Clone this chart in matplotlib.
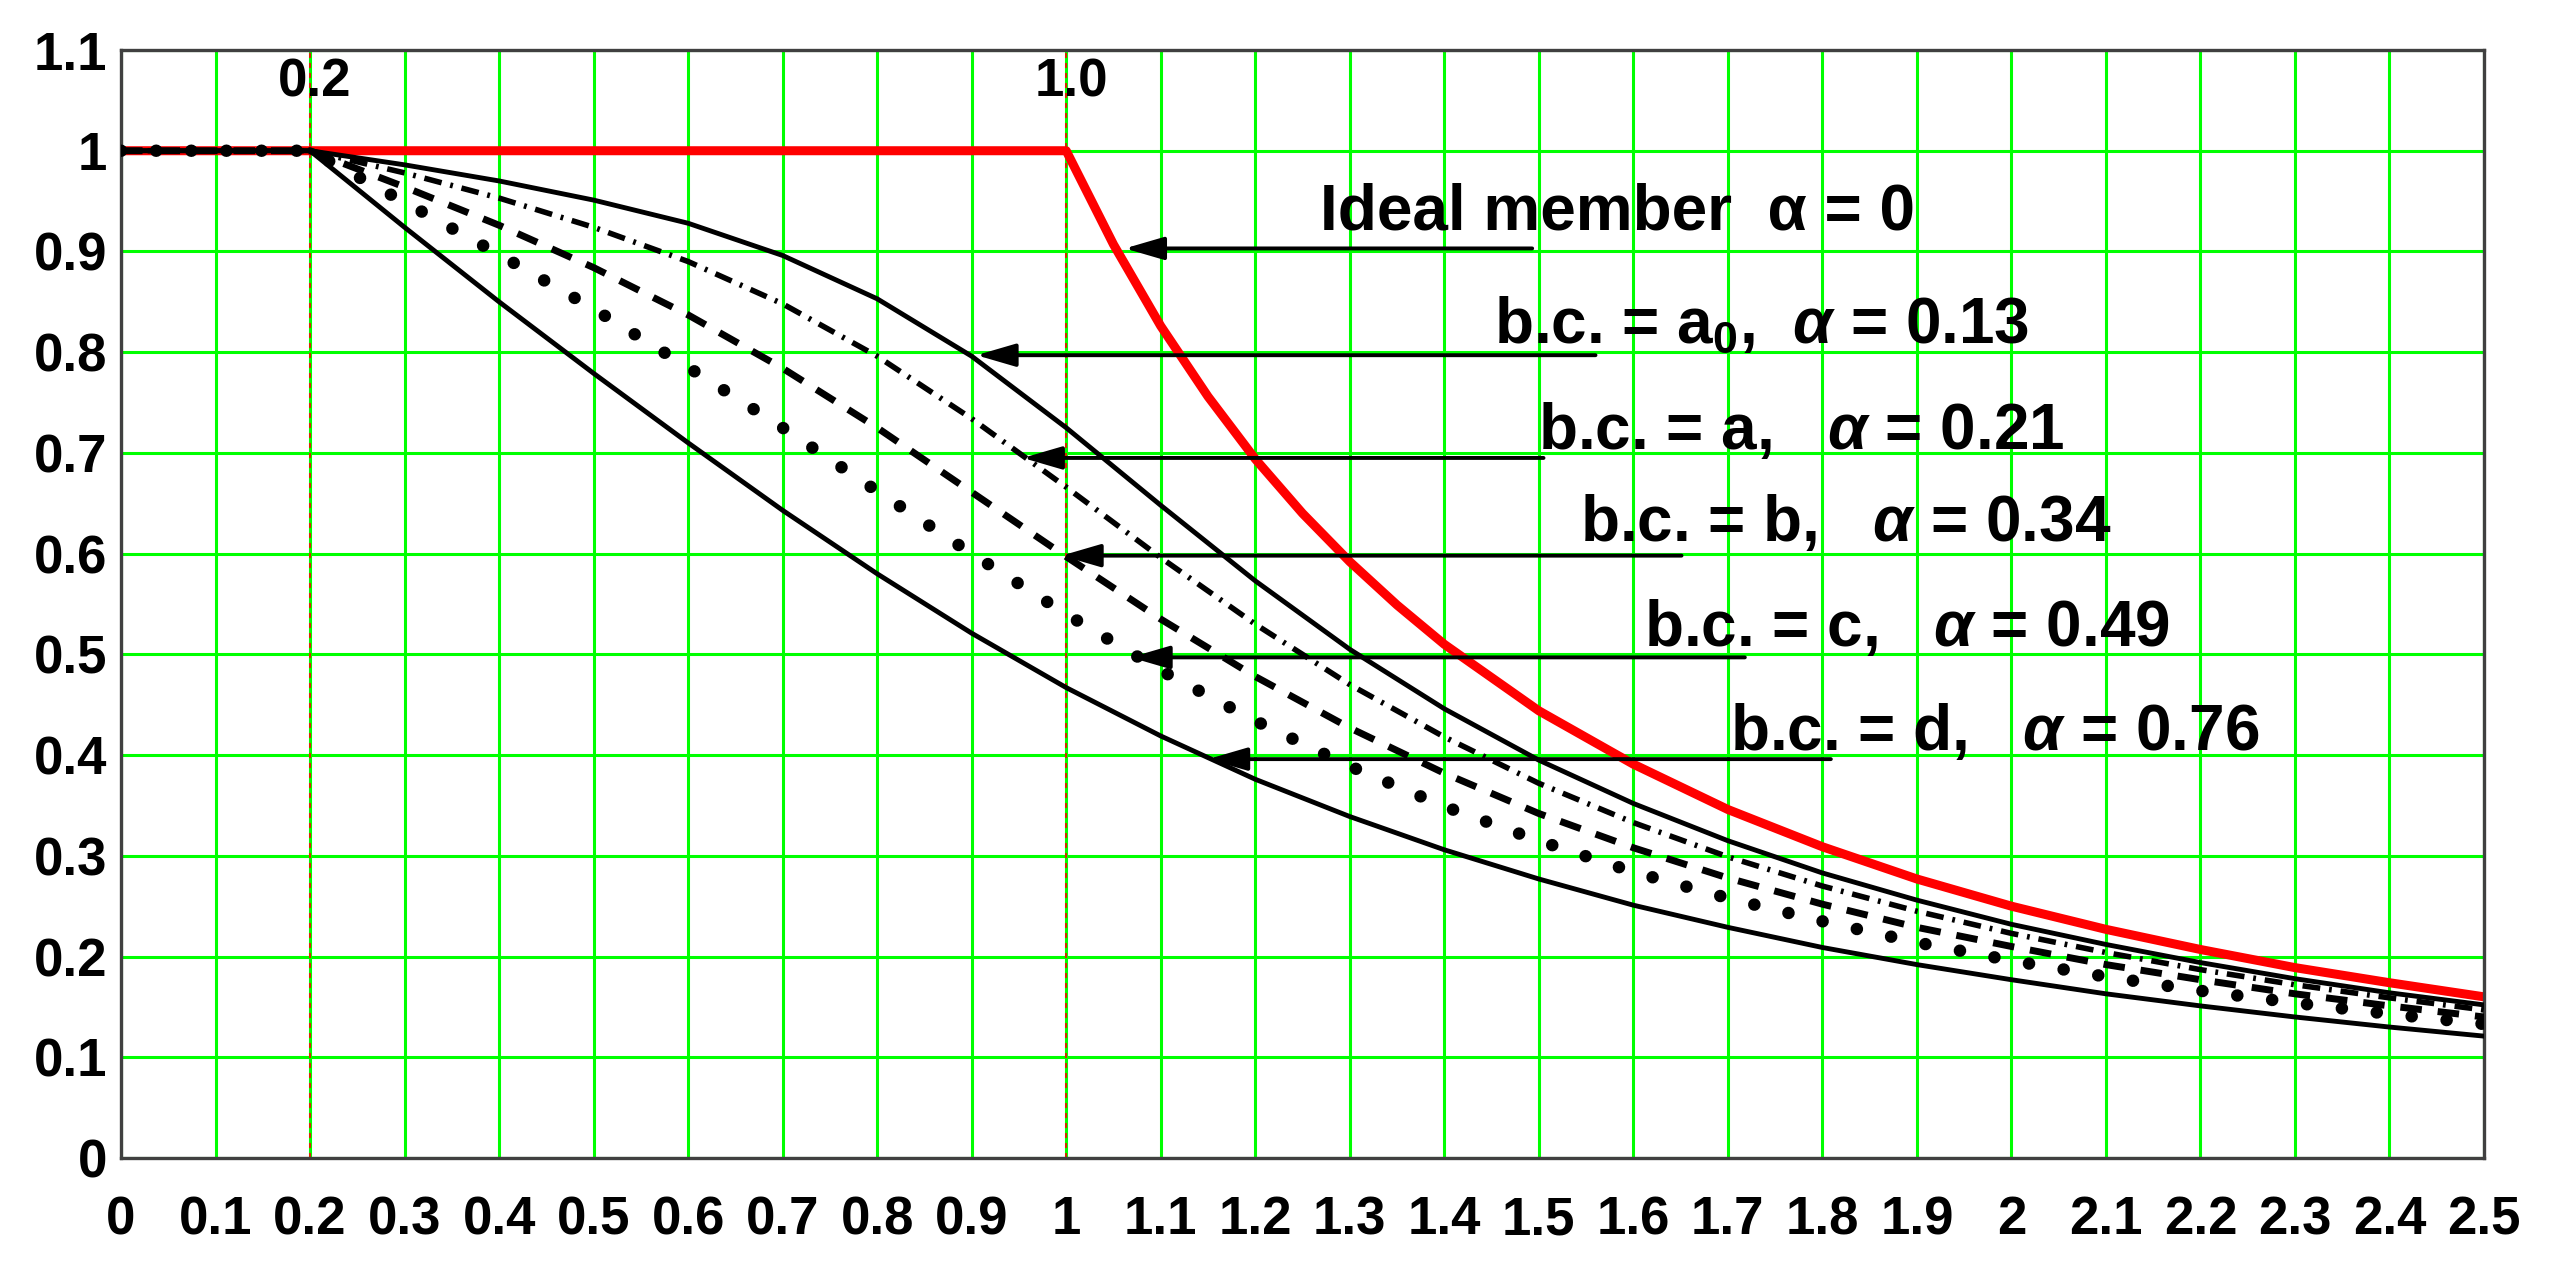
#buckling curves - reduction factor chi against relative slenderness

import numpy as np
import matplotlib.pyplot as plt

plt.rcParams['font.family'] = ['Liberation Sans', 'DejaVu Sans']
plt.rcParams['font.weight'] = 'bold'
plt.rcParams['mathtext.fontset'] = 'custom'
plt.rcParams['mathtext.rm'] = 'Liberation Sans:bold'
plt.rcParams['mathtext.bf'] = 'Liberation Sans:bold'
plt.rcParams['mathtext.it'] = 'Liberation Sans:italic:bold'

#values
lam = [0.0, 0.1, 0.2, 0.3, 0.4, 0.5, 0.6, 0.7, 0.8, 0.9, 1.0, 1.1, 1.2,
       1.3, 1.4, 1.5, 1.6, 1.7, 1.8, 1.9, 2.0, 2.1, 2.2, 2.3, 2.4, 2.5]
chi_a0 = [1, 1, 1, 0.986, 0.970, 0.951, 0.928, 0.896, 0.853, 0.796, 0.725,
          0.648, 0.573, 0.505, 0.446, 0.395, 0.352, 0.315, 0.283, 0.256,
          0.232, 0.212, 0.194, 0.178, 0.164, 0.152]
chi_a = [1, 1, 1, 0.978, 0.953, 0.924, 0.890, 0.848, 0.796, 0.734, 0.666,
         0.596, 0.530, 0.470, 0.418, 0.372, 0.333, 0.299, 0.270, 0.245,
         0.223, 0.204, 0.187, 0.172, 0.159, 0.147]
chi_b = [1, 1, 1, 0.964, 0.926, 0.884, 0.837, 0.784, 0.725, 0.661, 0.597,
         0.535, 0.478, 0.427, 0.382, 0.342, 0.308, 0.278, 0.252, 0.229,
         0.210, 0.192, 0.177, 0.163, 0.151, 0.140]
chi_c = [1, 1, 1, 0.949, 0.897, 0.843, 0.785, 0.725, 0.662, 0.600, 0.540,
         0.484, 0.434, 0.389, 0.349, 0.315, 0.284, 0.258, 0.235, 0.214,
         0.196, 0.180, 0.166, 0.154, 0.143, 0.133]
chi_d = [1, 1, 1, 0.924, 0.850, 0.779, 0.710, 0.643, 0.580, 0.521, 0.467,
         0.419, 0.376, 0.339, 0.306, 0.277, 0.251, 0.229, 0.209, 0.192,
         0.177, 0.163, 0.151, 0.140, 0.130, 0.121]

#ideal member (euler) curve
lam_ideal = [0.0, 0.2, 1.0, 1.05, 1.1, 1.15, 1.2, 1.25, 1.3, 1.35, 1.4, 1.5,
             1.6, 1.7, 1.8, 1.9, 2.0, 2.1, 2.2, 2.3, 2.4, 2.5]
chi_ideal = [1, 1, 1, 0.907, 0.826, 0.756, 0.694, 0.640, 0.592, 0.549, 0.510,
             0.444, 0.391, 0.346, 0.309, 0.277, 0.250, 0.227, 0.207, 0.189,
             0.174, 0.160]

labels = ["Ideal member  α = 0",
          r"b.c. = a$_0$,  $\alpha$ = 0.13",
          r"b.c. = a,   $\alpha$ = 0.21",
          r"b.c. = b,   $\alpha$ = 0.34",
          r"b.c. = c,   $\alpha$ = 0.49",
          r"b.c. = d,   $\alpha$ = 0.76"]

#arrow tail, arrow head, text position
arrows = [((1.493, 0.903), (1.062, 0.903), (1.268, 0.922)),
          ((1.560, 0.797), (0.905, 0.797), (1.453, 0.809)),
          ((1.505, 0.695), (0.954, 0.695), (1.499, 0.704)),
          ((1.651, 0.598), (0.995, 0.598), (1.544, 0.613)),
          ((1.718, 0.497), (1.068, 0.497), (1.611, 0.508)),
          ((1.809, 0.396), (1.150, 0.396), (1.702, 0.405))]

#plot graph
fig = plt.figure(figsize=(25.61, 12.76), dpi=100)
ax = fig.add_axes([121 / 2561, 1 - 1158 / 1276, 2363 / 2561, 1108 / 1276])

ax.set_xlim(0, 2.5)
ax.set_ylim(0, 1.1)
xt = np.round(np.arange(0, 2.51, 0.1), 1)
yt = np.round(np.arange(0, 1.11, 0.1), 1)
ax.set_xticks(xt)
ax.set_yticks(yt)
ax.set_xticklabels([f"{v:g}" for v in xt])
ax.set_yticklabels([f"{v:g}" for v in yt])
ax.tick_params(length=0, labelsize=38)
ax.tick_params(axis='x', pad=27)
ax.tick_params(axis='y', pad=10)
ax.grid(True, color='#00ff00', linewidth=2.2, zorder=0)
ax.set_axisbelow(True)
for s in ax.spines.values():
    s.set_color('#404040')
    s.set_linewidth(2.4)

for xv in [0.2, 1.0]:
    ax.axvline(xv, color='red', linestyle=(0, (3, 3)), linewidth=1.2, zorder=1)
    ax.text(xv + 0.005, 1.068, f"{xv:.1f}", ha='center', va='center', fontsize=38)

ax.plot(lam_ideal, chi_ideal, color='red', linewidth=6.5, zorder=2)
ax.plot(lam, chi_a0, color='black', linewidth=3.5, zorder=3)
ax.plot(lam, chi_a, color='black', linewidth=4, zorder=3,
        linestyle=(0, (3.2, 1.6, 0.5, 1.6)))
ax.plot(lam, chi_b, color='black', linewidth=5, zorder=3,
        linestyle=(0, (3.1, 2.3)))
ax.plot(lam, chi_c, color='black', linewidth=9, zorder=3,
        linestyle=(0, (0.01, 2.8)), dash_capstyle='round')
ax.plot(lam, chi_d, color='black', linewidth=3.5, zorder=3)

for (tail, head, tpos), lab in zip(arrows, labels):
    ax.annotate("", xy=head, xytext=tail,
                arrowprops=dict(arrowstyle='-|>,head_length=1.2,head_width=0.35',
                                color='black', linewidth=2.8, mutation_scale=20,
                                shrinkA=0, shrinkB=0), zorder=4)
    ax.text(tpos[0], tpos[1], lab, fontsize=46, ha='left', va='baseline', zorder=4)

plt.savefig("out.png", dpi=100)
